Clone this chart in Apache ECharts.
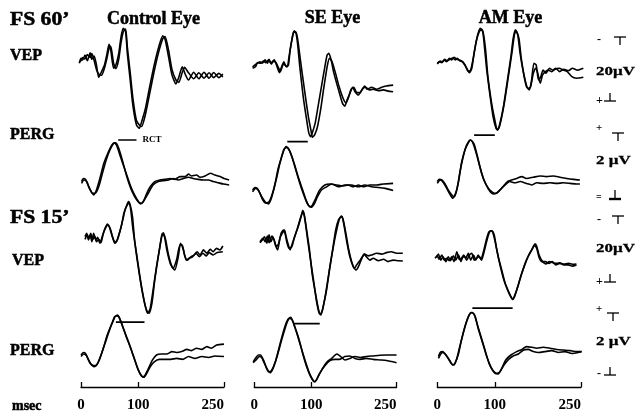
<!DOCTYPE html>
<html><head><meta charset="utf-8">
<script src="https://cdn.jsdelivr.net/npm/echarts@6/dist/echarts.min.js"></script>
<style>html,body{margin:0;padding:0;background:#fff}#c{width:636px;height:416px}</style>
</head><body><div id="c"></div>
<script>
// ---------- labels ----------
const columns = ['Control Eye', 'SE Eye', 'AM Eye'];
const timeTicks = [0, 100, 250];
// ---------- traces: [msec, µV] (VEP drawn negative-up) ----------
const ctlVep60A = [[-3,0.4],[0,-1.2],[3,-0.7],[7,-2.3],[11,-0.4],[16,-3.1],[19,-0.9],[23,-2.0],[27,1.0],[31,5.1],[36,3.2],[41,1.0],[45,-2.3],[49,-5.9],[52,-4.0],[57,2.1],[61,1.0],[66,-2.9],[70,-8.4],[74,-11.2],[78,-10.1],[81,-2.9],[86,6.0],[91,14.9],[97,21.0],[102,22.1],[106,19.9],[112,16.0],[119,9.3],[128,1.0],[136,-5.1],[143,-8.7],[147,-7.6],[153,-1.8],[159,4.3],[166,7.3],[171,5.1],[177,1.6],[182,4.0],[188,6.0],[197,3.4],[206,5.6],[215,3.4],[224,5.4],[232,3.5],[241,5.2],[248,4.0]];
const ctlVep60B = [[-3,0.0],[0,-0.5],[3,-1.5],[7,-1.0],[11,-2.5],[16,-1.5],[19,-2.8],[23,-0.5],[27,2.5],[31,4.0],[36,4.4],[41,2.0],[45,-1.0],[49,-4.5],[52,-5.2],[57,0.5],[61,2.2],[66,-1.0],[70,-6.5],[74,-10.2],[78,-11.0],[81,-5.0],[86,3.5],[91,12.5],[97,19.5],[102,21.0],[106,21.5],[112,18.0],[119,11.5],[128,3.0],[136,-3.5],[143,-7.8],[147,-8.5],[153,-4.0],[159,2.5],[166,6.0],[171,6.8],[177,3.5],[181,1.8],[188,3.6],[197,5.6],[206,3.6],[215,5.4],[224,3.6],[232,5.2],[241,3.8],[248,5.0]];
const seVep60A = [[-3,1.6],[1,1.0],[5,0.4],[10,-0.1],[14,0.4],[19,-0.7],[23,0.4],[26,-0.9],[30,0.7],[35,-0.7],[39,1.0],[44,3.6],[48,1.6],[52,-0.1],[56,1.6],[60,1.0],[63,-4.0],[67,-8.4],[70,-10.4],[73,-9.8],[76,-6.2],[80,1.6],[86,11.6],[92,19.3],[96,23.8],[99,24.9],[102,23.6],[107,20.4],[112,14.9],[118,8.2],[124,1.6],[128,-2.3],[131,-2.9],[135,-0.7],[140,3.8],[148,9.3],[155,13.8],[159,14.7],[163,12.7],[168,10.4],[173,8.4],[177,9.9],[183,11.0],[189,9.3],[194,8.0],[198,9.1],[206,8.4],[215,9.1],[224,8.4],[232,8.0],[244,7.7]];
const seVep60B = [[-3,2.1],[2,1.6],[6,0.2],[11,0.4],[16,-0.3],[20,0.2],[25,-0.7],[29,0.4],[33,-0.3],[38,0.2],[43,2.1],[46,3.2],[51,0.7],[54,1.0],[58,1.6],[61,-1.8],[66,-7.3],[69,-9.8],[73,-10.0],[76,-7.9],[81,-0.7],[89,10.4],[95,18.2],[100,23.2],[102,25.1],[106,24.3],[111,21.6],[117,15.4],[122,8.8],[128,1.6],[132,-1.2],[136,-0.4],[142,3.2],[149,8.2],[156,12.1],[161,13.6],[166,11.6],[170,9.1],[175,8.4],[180,10.2],[186,10.2],[191,8.8],[196,8.4],[202,9.3],[209,9.1],[218,9.6],[227,9.3],[235,9.7],[244,9.9]];
const amVep60A = [[0,0.4],[3,-0.1],[8,0.2],[12,-0.7],[16,-0.1],[21,-1.2],[25,-0.7],[29,-1.6],[34,-0.9],[38,-0.7],[42,-0.4],[48,1.0],[54,3.2],[58,2.7],[63,-1.8],[67,-6.2],[71,-9.6],[75,-11.2],[79,-10.1],[82,-5.1],[86,2.7],[92,11.6],[97,18.2],[102,22.1],[105,22.7],[109,20.4],[115,14.9],[122,6.0],[128,-1.8],[132,-7.9],[136,-10.7],[140,-9.0],[144,-2.9],[150,3.8],[155,8.2],[160,9.3],[164,6.0],[168,0.4],[172,1.0],[176,6.0],[180,4.9],[184,2.7],[189,3.8],[195,2.1],[201,2.7],[206,2.1],[213,3.2],[220,2.4],[228,2.9],[235,2.1],[244,2.7],[254,2.1]];
const amVep60B = [[0,0.7],[5,-0.3],[9,-0.1],[13,-0.9],[17,-0.3],[22,-0.9],[27,-1.3],[31,-0.7],[35,-1.2],[39,-0.4],[44,-0.1],[50,1.6],[56,3.6],[60,2.1],[64,-2.9],[68,-7.1],[73,-10.1],[77,-10.9],[80,-9.6],[84,-4.0],[88,4.9],[94,13.2],[100,19.3],[104,22.4],[107,22.1],[111,19.3],[117,13.2],[124,4.3],[130,-3.4],[134,-9.0],[137,-10.4],[142,-7.9],[146,-1.2],[152,5.4],[158,8.8],[162,8.4],[167,3.8],[171,2.1],[174,3.2],[179,7.1],[183,4.3],[188,3.2],[193,2.7],[199,3.2],[205,2.4],[212,2.1],[219,2.7],[226,3.2],[234,4.9],[242,5.4],[254,5.1]];

const ctlPerg60A = [[1,-0.05],[4,0.05],[8,0.02],[12,-0.16],[16,-0.32],[22,-0.48],[27,-0.32],[33,0.05],[40,0.54],[48,0.91],[54,1.13],[58,1.20],[62,1.13],[69,0.75],[77,0.32],[85,-0.11],[91,-0.38],[97,-0.59],[102,-0.73],[106,-0.75],[110,-0.65],[115,-0.43],[121,-0.22],[129,-0.05],[138,0],[147,0.02],[156,0.05],[164,0.02],[173,0.11],[182,0.11],[188,0.19],[193,0.13],[202,0.16],[208,0.09],[217,0.13],[226,0.22],[234,0.16],[243,0.11],[250,0.05],[259,0]];
const ctlPerg60B = [[1,-0.11],[5,0],[10,-0.05],[15,-0.27],[20,-0.43],[26,-0.41],[32,-0.16],[39,0.32],[45,0.70],[51,0.99],[57,1.18],[61,1.20],[66,1.02],[73,0.59],[80,0.11],[87,-0.27],[94,-0.54],[100,-0.70],[104,-0.77],[109,-0.70],[114,-0.54],[119,-0.38],[126,-0.16],[135,-0.05],[144,-0.02],[153,0],[161,0.05],[170,0],[179,0.05],[188,0.09],[196,0.05],[205,0.02],[214,0],[223,0],[231,-0.05],[240,-0.09],[249,-0.13],[259,-0.16]];
const sePerg60A = [[-3,-0.32],[1,-0.24],[5,-0.27],[10,-0.43],[15,-0.65],[20,-0.75],[26,-0.70],[32,-0.43],[39,0.05],[45,0.54],[51,0.91],[56,1.08],[60,1.02],[66,0.75],[73,0.32],[80,-0.11],[87,-0.48],[93,-0.75],[98,-0.86],[102,-0.81],[108,-0.59],[115,-0.32],[124,-0.16],[133,-0.13],[145,-0.16],[156,-0.19],[165,-0.16],[174,-0.22],[183,-0.16],[191,-0.22],[203,-0.16],[215,-0.16],[227,-0.13],[244,-0.11]];
const sePerg60B = [[-3,-0.38],[2,-0.27],[7,-0.32],[13,-0.54],[19,-0.70],[25,-0.77],[30,-0.59],[36,-0.16],[42,0.38],[48,0.75],[52,0.99],[57,1.05],[63,0.91],[70,0.54],[77,0.11],[85,-0.32],[91,-0.65],[95,-0.81],[100,-0.88],[106,-0.75],[111,-0.54],[118,-0.32],[127,-0.22],[136,-0.13],[148,-0.22],[159,-0.16],[171,-0.16],[183,-0.22],[194,-0.16],[206,-0.22],[218,-0.24],[230,-0.27],[244,-0.34]];
const amPerg60A = [[0,-0.05],[3,0.02],[8,0],[13,-0.11],[19,-0.32],[25,-0.48],[29,-0.54],[34,-0.32],[39,0.22],[45,0.75],[51,1.13],[57,1.29],[61,1.24],[67,0.91],[74,0.43],[81,0],[89,-0.27],[95,-0.38],[100,-0.43],[106,-0.38],[114,-0.22],[122,-0.05],[129,0],[138,0.05],[147,0.11],[155,0.05],[167,0.09],[179,0.13],[190,0.11],[202,0.13],[213,0.09],[225,0.05],[237,0.02],[248,0]];
const amPerg60B = [[0,-0.11],[5,0],[9,-0.05],[15,-0.22],[21,-0.43],[27,-0.59],[31,-0.48],[37,-0.05],[42,0.54],[48,0.97],[54,1.20],[58,1.29],[64,1.16],[70,0.75],[77,0.22],[85,-0.16],[92,-0.38],[97,-0.45],[103,-0.43],[109,-0.32],[118,-0.16],[126,-0.05],[135,-0.09],[144,-0.05],[155,-0.11],[164,-0.16],[173,-0.09],[184,-0.11],[196,-0.09],[208,-0.11],[219,-0.09],[231,-0.11],[242,-0.13],[248,-0.13]];

const ctlVep15A = [[7,-1.1],[10,-2.2],[13,0],[16,-1.7],[19,0.6],[22,-2.2],[26,0],[29,-0.9],[33,1.1],[38,-1.7],[42,-3.9],[46,-5.3],[51,-3.9],[55,-1.1],[59,1.1],[64,-0.2],[68,-2.8],[73,-6.7],[77,-10.0],[81,-11.7],[84,-12.2],[87,-10.0],[91,-3.3],[97,4.4],[103,12.2],[109,18.9],[114,23.3],[117,24.4],[121,22.8],[126,16.7],[132,8.9],[138,2.2],[142,-2.2],[146,-1.1],[150,3.3],[156,7.8],[161,9.4],[167,6.7],[173,1.7],[177,1.7],[181,5.0],[186,6.7],[192,5.6],[198,5.0],[203,3.9],[208,5.0],[214,3.3],[220,4.4],[226,3.1],[231,3.9],[237,2.8],[243,3.3],[248,2.0]];
const ctlVep15B = [[7,-0.2],[11,-1.7],[14,-0.6],[17,-2.2],[20,0],[24,-1.3],[27,0.6],[31,-0.2],[35,0.9],[39,-2.2],[44,-4.4],[48,-5.0],[52,-2.8],[57,0],[61,0.9],[66,-1.7],[71,-5.0],[75,-8.9],[79,-11.1],[83,-12.8],[86,-11.7],[90,-7.8],[94,0.6],[100,8.9],[106,16.1],[112,21.7],[116,23.9],[119,24.4],[124,21.1],[129,13.3],[135,5.6],[140,0],[144,-2.4],[148,0],[153,5.0],[159,8.9],[164,10.0],[170,5.6],[174,1.1],[179,3.3],[184,6.7],[189,6.1],[195,5.6],[201,4.4],[207,5.6],[213,4.4],[219,5.3],[224,4.2],[231,5.0],[238,4.2],[248,3.9]];
const seVep15A = [[10,0.9],[14,0],[18,-1.1],[22,1.1],[26,-1.7],[29,0.6],[33,-0.9],[37,1.7],[41,3.3],[45,-0.6],[49,-2.2],[53,-3.3],[56,-1.1],[59,1.1],[63,3.3],[67,1.1],[71,-1.1],[76,-3.9],[80,-6.7],[84,-8.9],[86,-9.4],[89,-6.7],[93,-1.1],[98,5.6],[104,13.3],[109,20.0],[114,24.4],[117,25.0],[121,22.2],[127,16.7],[133,8.9],[140,1.1],[146,-4.4],[150,-7.2],[154,-7.8],[157,-5.6],[162,0],[168,5.6],[174,8.9],[179,10.0],[183,8.9],[189,6.1],[193,4.7],[197,5.6],[203,6.7],[209,6.1],[218,6.9],[227,6.4],[235,7.2],[244,6.7],[253,6.9],[261,7.0]];
const seVep15B = [[10,0.6],[15,-0.6],[19,0.6],[23,-1.3],[26,0.9],[31,-1.3],[35,0],[39,2.2],[43,1.1],[47,-2.2],[51,-3.3],[54,-2.2],[57,0.6],[61,2.8],[66,2.2],[70,-0.6],[74,-2.8],[79,-5.6],[83,-8.3],[85,-9.8],[88,-8.3],[92,-3.3],[97,3.3],[102,11.7],[108,18.3],[113,23.3],[116,24.7],[120,23.3],[125,18.3],[131,11.1],[138,2.8],[143,-3.3],[148,-6.7],[153,-8.0],[156,-6.9],[161,-2.2],[166,3.3],[172,7.8],[176,9.4],[180,8.3],[186,6.7],[190,5.6],[194,4.7],[200,5.3],[206,5.0],[215,4.4],[224,4.7],[232,4.2],[241,3.9],[250,4.4],[261,4.4]];
const amVep15A = [[-4,6.1],[0,5.3],[3,6.4],[8,5.0],[12,6.7],[16,6.1],[21,6.9],[25,5.6],[29,7.2],[34,3.9],[38,6.4],[42,6.1],[46,5.0],[51,6.7],[56,5.0],[60,4.4],[64,6.7],[68,6.1],[73,5.6],[77,6.7],[80,5.0],[85,1.1],[89,-1.7],[93,-3.1],[96,-2.8],[100,0],[106,5.6],[112,10.0],[118,14.4],[124,17.2],[128,18.9],[131,19.8],[135,18.3],[141,15.0],[147,11.1],[154,7.2],[161,4.4],[167,2.2],[170,1.3],[173,2.2],[177,5.0],[183,7.2],[189,8.0],[195,7.2],[201,7.6],[208,7.8],[213,7.6],[220,8.0],[228,7.8],[235,8.1],[242,8.0]];
const amVep15B = [[-2,5.8],[2,4.7],[6,6.7],[10,5.6],[15,7.2],[19,5.6],[23,6.9],[28,5.3],[32,6.7],[37,5.0],[41,7.2],[45,5.6],[50,5.8],[54,4.4],[58,6.7],[63,5.0],[67,6.7],[71,5.0],[76,6.4],[81,3.3],[86,-0.6],[90,-2.8],[95,-3.1],[99,-1.7],[103,2.8],[109,8.3],[115,12.8],[121,16.1],[126,18.3],[131,19.8],[134,19.1],[139,16.1],[145,12.2],[153,7.8],[159,5.0],[165,3.1],[169,1.7],[173,2.8],[177,5.8],[182,7.2],[188,7.2],[194,7.8],[200,7.2],[206,8.3],[213,7.8],[220,8.3],[228,8.3],[235,8.7],[242,8.3]];

const ctlPerg15A = [[0,0],[4,0.08],[8,0.05],[13,-0.16],[19,-0.32],[26,-0.35],[32,-0.16],[39,0.22],[46,0.65],[54,1.02],[59,1.24],[64,1.29],[68,1.15],[75,0.81],[83,0.43],[90,0.05],[97,-0.32],[103,-0.59],[108,-0.70],[112,-0.65],[118,-0.43],[125,-0.16],[132,0],[141,0.03],[150,0.03],[159,0.11],[167,0.08],[176,0.11],[185,0.18],[193,0.14],[202,0.22],[211,0.18],[220,0.27],[228,0.22],[237,0.32],[250,0.35]];
const ctlPerg15B = [[0,-0.05],[5,0.03],[10,-0.03],[16,-0.27],[23,-0.38],[29,-0.27],[36,0.05],[44,0.48],[51,0.86],[57,1.13],[61,1.26],[66,1.24],[72,0.97],[79,0.59],[87,0.22],[94,-0.16],[100,-0.48],[106,-0.68],[110,-0.72],[115,-0.59],[121,-0.38],[128,-0.22],[137,-0.14],[147,-0.14],[157,-0.14],[167,-0.11],[178,-0.14],[188,-0.05],[199,-0.11],[211,-0.05],[223,-0.08],[234,-0.03],[250,-0.05]];
const sePerg15A = [[-2,-0.22],[3,-0.08],[7,0],[11,0],[16,-0.16],[22,-0.43],[28,-0.57],[33,-0.43],[40,-0.05],[48,0.48],[56,0.97],[61,1.18],[64,1.22],[68,1.08],[74,0.75],[81,0.32],[89,-0.16],[97,-0.59],[104,-0.83],[107,-0.86],[112,-0.70],[120,-0.43],[128,-0.22],[136,-0.11],[145,0.03],[152,-0.05],[159,-0.16],[168,-0.11],[177,-0.05],[186,-0.08],[197,-0.05],[209,-0.03],[221,-0.01],[232,0],[250,0]];
const sePerg15B = [[-2,-0.25],[4,-0.14],[9,-0.05],[13,-0.08],[19,-0.32],[25,-0.54],[30,-0.51],[37,-0.22],[44,0.27],[51,0.75],[57,1.08],[61,1.18],[66,1.15],[71,0.91],[78,0.54],[85,0.05],[92,-0.38],[99,-0.70],[105,-0.86],[109,-0.81],[115,-0.59],[124,-0.35],[133,-0.18],[142,-0.14],[150,-0.14],[159,-0.05],[168,-0.03],[177,-0.11],[186,-0.14],[197,-0.11],[209,-0.14],[221,-0.16],[232,-0.18],[250,-0.25]];
const amPerg15A = [[2,-0.05],[5,0.08],[9,0.11],[13,0.05],[19,-0.11],[25,-0.29],[29,-0.32],[34,-0.11],[39,0.27],[45,0.70],[51,1.08],[57,1.34],[61,1.37],[66,1.24],[71,0.86],[79,0.38],[86,-0.05],[93,-0.38],[100,-0.59],[106,-0.61],[112,-0.43],[119,-0.16],[128,0],[138,0.11],[147,0.18],[155,0.27],[164,0.25],[173,0.22],[184,0.25],[196,0.22],[208,0.18],[219,0.16],[231,0.14],[242,0.11],[251,0.11]];
const amPerg15B = [[2,-0.11],[6,0.03],[10,0.08],[15,0],[21,-0.16],[27,-0.32],[31,-0.25],[37,0.05],[42,0.48],[48,0.91],[54,1.24],[59,1.37],[64,1.32],[68,1.08],[75,0.65],[83,0.16],[90,-0.27],[97,-0.51],[103,-0.59],[109,-0.54],[116,-0.32],[124,-0.14],[132,-0.03],[141,0.03],[150,0.16],[158,0.18],[167,0.11],[176,0.08],[187,0.11],[199,0.14],[211,0.08],[222,0.11],[234,0.05],[245,0.08],[251,0.11]];

// RCT bars: [start msec, end msec, level µV] for each column
const rct60 = [[65,97,1.29],[58,94,1.24],[64,100,1.45]];
const rct15 = [[61,111,1.06],[68,115,1.01],[61,131,1.51]];

// ---------- layout ----------
const X0 = [81, 254.3, 437.3];      // px position of 0 msec per column
const K = [0.572, 0.569, 0.575];    // px per msec per column
const T_MIN = -10, T_MAX = 265;
const ROWS = [
  {base: 62,  min: -20, max: 40, ppu: 3,  inverse: true},
  {base: 180, min: -1.5, max: 2.0, ppu: 31, inverse: false},
  {base: 240, min: -20, max: 40, ppu: 3,  inverse: true},
  {base: 355, min: -1.5, max: 2.0, ppu: 31, inverse: false}
];
const panels = [
  [[ctlVep60A, ctlVep60B], [seVep60A, seVep60B], [amVep60A, amVep60B]],
  [[ctlPerg60A, ctlPerg60B], [sePerg60A, sePerg60B], [amPerg60A, amPerg60B]],
  [[ctlVep15A, ctlVep15B], [seVep15A, seVep15B], [amVep15A, amVep15B]],
  [[ctlPerg15A, ctlPerg15B], [sePerg15A, sePerg15B], [amPerg15A, amPerg15B]]
];
const rctRows = [null, rct60, null, rct15];
const FONT = '"Liberation Serif", "Times New Roman", serif';

const grids = [], xAxes = [], yAxes = [], series = [];
ROWS.forEach((row, r) => {
  columns.forEach((col, c) => {
    const gi = grids.length;
    grids.push({
      left: X0[c] + T_MIN * K[c],
      width: (T_MAX - T_MIN) * K[c],
      top: row.inverse ? row.base + row.min * row.ppu : row.base - row.max * row.ppu,
      height: (row.max - row.min) * row.ppu
    });
    xAxes.push({gridIndex: gi, type: 'value', min: T_MIN, max: T_MAX, show: false});
    yAxes.push({gridIndex: gi, type: 'value', min: row.min, max: row.max, inverse: row.inverse, show: false});
    panels[r][c].forEach(d => series.push({
      type: 'line', xAxisIndex: gi, yAxisIndex: gi, data: d, showSymbol: false,
      smooth: 0.2, silent: true, lineStyle: {color: '#000', width: 1.6}
    }));
    if (rctRows[r]) {
      const b = rctRows[r][c];
      const s = {
        type: 'line', xAxisIndex: gi, yAxisIndex: gi, showSymbol: false, silent: true,
        data: [[b[0], b[2]], [b[1], b[2]]], lineStyle: {color: '#000', width: 1.7}
      };
      if (r === 1 && c === 0) {
        s.endLabel = {show: true, formatter: 'RCT', distance: 6, color: '#000',
          fontFamily: FONT, fontWeight: 'bold', fontSize: 9};
      }
      series.push(s);
    }
  });
});
// time axes
columns.forEach((col, c) => {
  const gi = grids.length;
  grids.push({left: X0[c], width: 250 * K[c], top: 386, height: 1});
  xAxes.push({
    gridIndex: gi, type: 'value', min: 0, max: 250, position: 'bottom',
    axisLine: {show: true, onZero: false, lineStyle: {color: '#000', width: 1.3}},
    axisTick: {show: true, inside: true, length: 5, customValues: timeTicks, lineStyle: {color: '#000', width: 1.3}},
    axisLabel: {show: true, customValues: timeTicks, margin: 11, color: '#000',
      fontFamily: FONT, fontWeight: 'bold', fontSize: 15, alignMaxLabel: 'right'},
    splitLine: {show: false}
  });
  yAxes.push({gridIndex: gi, type: 'value', show: false, min: 0, max: 1});
});

// ---------- text & scale bars ----------
function txt(t, x, y, size, opts) {
  opts = opts || {};
  return {type: 'text', x: x, y: y, scaleX: opts.sx || 1, silent: true,
    style: {text: t, fill: '#000', font: 'bold ' + size + 'px ' + FONT,
      stroke: '#000', lineWidth: opts.sw === undefined ? 0.5 : opts.sw,
      textAlign: opts.align || 'left', textVerticalAlign: 'middle'}};
}
function seg(x1, y1, x2, y2, w) {
  return {type: 'line', silent: true, shape: {x1: x1, y1: y1, x2: x2, y2: y2},
    style: {stroke: '#000', lineWidth: w || 1.3}};
}
function tee(xl, xr, y, len) { const xm = (xl + xr) / 2; return [seg(xl, y, xr, y), seg(xm, y, xm, y + len)]; }
function bot(xl, xr, y, len, w) { const xm = (xl + xr) / 2; return [seg(xl, y, xr, y, w), seg(xm, y - len, xm, y)]; }

const graphics = [
  txt('FS 60\u2019', 10, 20, 18, {sx: 1.2}),
  txt('VEP', 10, 56, 16),
  txt('PERG', 10, 135, 16),
  txt('FS 15\u2019', 10, 218, 18, {sx: 1.2}),
  txt('VEP', 12, 261, 16),
  txt('PERG', 10, 351, 16),
  txt('msec', 12, 406, 14),
  txt(columns[0], 153.5, 19, 18, {align: 'center'}),
  txt(columns[1], 332.5, 18, 18, {align: 'center'}),
  txt(columns[2], 510.5, 18, 18, {align: 'center'}),
  // scale bars FS 60
  txt('-', 597, 40, 12, {sw: 0}), ...tee(614, 626, 37, 8),
  txt('20\u00b5V', 596, 72, 13, {sx: 1.3, sw: 0.3}),
  txt('+', 596, 101, 12, {sw: 0}), ...bot(604, 616, 101, 8),
  txt('+', 596, 128, 11, {sw: 0}), ...tee(612, 624, 133, 8),
  txt('2 \u00b5V', 596, 161, 13, {sx: 1.3, sw: 0.3}),
  txt('=', 596, 197, 10, {sw: 0}), ...bot(609, 621, 199, 9, 2.4),
  // scale bars FS 15
  txt('-', 597, 220, 12, {sw: 0}), ...tee(612, 624, 216, 8),
  txt('20\u00b5V', 596, 249, 13, {sx: 1.3, sw: 0.3}),
  txt('+', 596, 282, 12, {sw: 0}), ...bot(604, 616, 282, 8),
  txt('+', 596, 309, 11, {sw: 0}), ...tee(607, 619, 313, 8),
  txt('2 \u00b5V', 596, 342, 13, {sx: 1.3, sw: 0.3}),
  txt('-', 597, 374, 12, {sw: 0}), ...bot(604, 616, 375, 8)
];

const chart = echarts.init(document.getElementById('c'));
chart.setOption({
  animation: false,
  backgroundColor: '#fff',
  grid: grids, xAxis: xAxes, yAxis: yAxes, series: series,
  graphic: graphics
});
</script></body></html>
